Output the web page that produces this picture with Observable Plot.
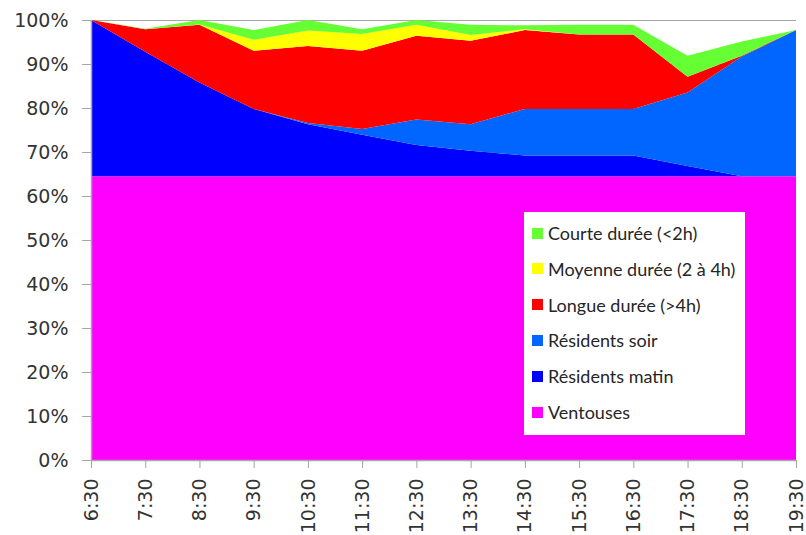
<!DOCTYPE html>
<html>
<head>
<meta charset="utf-8">
<script src="https://cdn.jsdelivr.net/npm/d3@7"></script>
<script src="https://cdn.jsdelivr.net/npm/@observablehq/plot@0.6"></script>
<style>
  html, body { margin: 0; padding: 0; background: #fff; }
  #wrap { position: relative; width: 806px; height: 535px; }
  #legend { position: absolute; left: 524px; top: 212px; width: 221px; height: 223px; background: #fff; font-family: Lato, "Liberation Sans", sans-serif; font-size: 18px; color: #262626; }
  #legend .item { position: absolute; left: 8px; display: flex; align-items: center; white-space: nowrap; }
  #legend .sw { width: 11px; height: 11px; margin-right: 5px; }
</style>
</head>
<body>
<div id="wrap"></div>
<script>
const times = ["6:30","7:30","8:30","9:30","10:30","11:30","12:30","13:30","14:30","15:30","16:30","17:30","18:30","19:30"];
const seriesNames = ["Ventouses","Résidents matin","Résidents soir","Longue durée (>4h)","Moyenne durée (2 à 4h)","Courte durée (<2h)"];
const seriesColors = ["#FF00FF","#0000FF","#0066FF","#FF0000","#FFFF00","#66FF33"];
const ventouses = [64.5,64.5,64.5,64.5,64.5,64.5,64.5,64.5,64.5,64.5,64.5,64.5,64.5,64.5];
const matin     = [35.5,28.3,21.3,15.3,11.8,9.4,7.1,5.8,4.7,4.7,4.7,2.3,0,0];
const soir      = [0,0,0,0,0.3,1.3,5.8,6.0,10.6,10.6,10.6,16.7,27.2,33.2];
const longue    = [0,5.1,13.1,13.2,17.5,17.8,19.0,19.0,17.9,16.9,16.9,3.6,0.2,0];
const moyenne   = [0,0,0.1,2.5,3.5,3.8,2.5,1.3,0.2,0,0,0,0,0];
const courte    = [0,0.1,1.0,2.2,2.4,1.1,1.1,2.3,0.9,2.2,2.2,4.8,3.2,0];
const yTicks = [0,10,20,30,40,50,60,70,80,90,100];

const seriesValues = [ventouses, matin, soir, longue, moyenne, courte];
const data = [];
seriesNames.forEach((name, s) => {
  times.forEach((t, i) => data.push({i, time: t, series: name, value: seriesValues[s][i]}));
});

const chart = Plot.plot({
  width: 806,
  height: 535,
  marginLeft: 91,
  marginRight: 10,
  marginTop: 20,
  marginBottom: 75,
  style: {fontFamily: "DejaVu Sans, sans-serif", fontSize: "19px", color: "#333", background: "#fff"},
  x: {type: "linear", domain: [0, times.length - 1], label: null},
  y: {domain: [0, 100], label: null},
  color: {domain: seriesNames, range: seriesColors},
  marks: [
    Plot.ruleY(yTicks, {stroke: "#a6a6a6", strokeWidth: 1}),
    Plot.areaY(data, {x: "i", y: "value", fill: "series", order: seriesNames, curve: "linear"}),
    Plot.ruleX([0], {stroke: "#a6a6a6", strokeWidth: 1.5}),
    Plot.ruleY([0], {stroke: "#a6a6a6", strokeWidth: 1.5}),
    Plot.axisY({ticks: yTicks, tickFormat: d => d + "%", tickSize: 9, tickPadding: 14, stroke: "#a6a6a6", label: null, fill: "#333"}),
    Plot.axisX({ticks: d3.range(times.length), tickFormat: i => times[i], tickSize: 8, tickPadding: 10, tickRotate: -90, stroke: "#a6a6a6", label: null, fill: "#333"})
  ]
});
const wrap = document.getElementById("wrap");
wrap.appendChild(chart);

const legend = document.createElement("div");
legend.id = "legend";
const order = [5,4,3,2,1,0];
order.forEach((s, k) => {
  const item = document.createElement("div");
  item.className = "item";
  item.style.top = (21 + k * 35.8 - 11) + "px";
  const sw = document.createElement("span");
  sw.className = "sw";
  sw.style.background = seriesColors[s];
  const tx = document.createElement("span");
  tx.textContent = seriesNames[s];
  item.appendChild(sw);
  item.appendChild(tx);
  legend.appendChild(item);
});
wrap.appendChild(legend);
</script>
</body>
</html>
